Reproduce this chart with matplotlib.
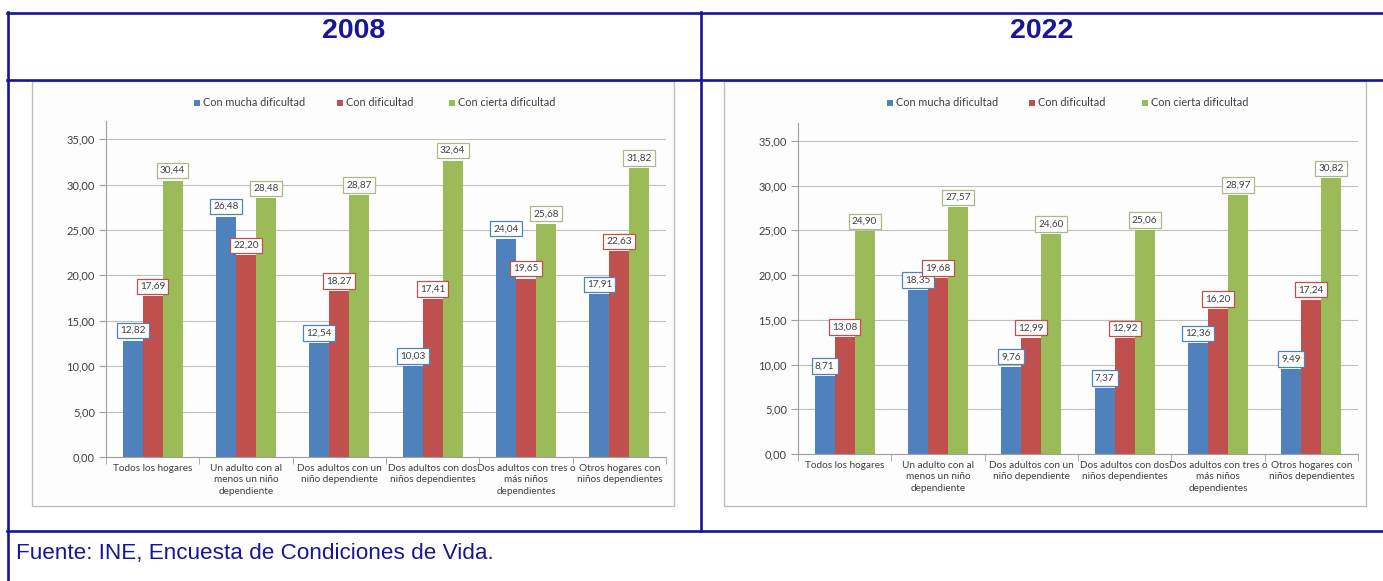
import numpy as np
import matplotlib
matplotlib.use('Agg')
import matplotlib.pyplot as plt
import matplotlib.font_manager as fm
from matplotlib.patches import Rectangle
from matplotlib.lines import Line2D

# data
categories = ['Todos los hogares',
              'Un adulto con al\nmenos un niño\ndependiente',
              'Dos adultos con un\nniño dependiente',
              'Dos adultos con dos\nniños dependientes',
              'Dos adultos con tres o\nmás niños\ndependientes',
              'Otros hogares con\nniños dependientes']
series_names = ['Con mucha dificultad', 'Con dificultad', 'Con cierta dificultad']

mucha_2008 = [12.82, 26.48, 12.54, 10.03, 24.04, 17.91]
dificultad_2008 = [17.69, 22.20, 18.27, 17.41, 19.65, 22.63]
cierta_2008 = [30.44, 28.48, 28.87, 32.64, 25.68, 31.82]

mucha_2022 = [8.71, 18.35, 9.76, 7.37, 12.36, 9.49]
dificultad_2022 = [13.08, 19.68, 12.99, 12.92, 16.20, 17.24]
cierta_2022 = [24.90, 27.57, 24.60, 25.06, 28.97, 30.82]

yticks = [0, 5, 10, 15, 20, 25, 30, 35]

colors = ['#4f81bd', '#c0504d', '#9bbb59']
label_edges = ['#4f81bd', '#c0504d', '#a9b98a']
navy = '#161696'
txt = '#3f3f3f'

names = {f.name for f in fm.fontManager.ttflist}
cfont = 'Lato' if 'Lato' in names else 'Liberation Sans'

W, H = 1383, 581
fig = plt.figure(figsize=(W / 100, H / 100), dpi=100)
fig.patch.set_facecolor('white')


def fx(px):
    return px / W


def fy(py):
    return (H - py) / H


def fmt(v):
    return f'{v:.2f}'.replace('.', ',')


def draw_chart(rect, data, legend_px):
    ax = fig.add_axes(rect)
    ax.set_facecolor('none')
    x = np.arange(len(categories))
    bw = 0.214
    for i, vals in enumerate(data):
        pos = x + (i - 1) * bw
        ax.bar(pos, vals, width=bw, color=colors[i], zorder=2)
        for p, v in zip(pos, vals):
            ax.annotate(fmt(v), (p, v), xytext=(0, 10), textcoords='offset pixels',
                        ha='center', va='center', fontsize=7.2, family=cfont,
                        color=txt, zorder=5 + i,
                        bbox=dict(boxstyle='square,pad=0.32', fc='white',
                                  ec=label_edges[i], lw=0.9))
    ax.set_xlim(-0.5, len(categories) - 0.5)
    ax.set_ylim(0, 37)
    ax.set_yticks(yticks)
    ax.set_yticklabels([fmt(t) for t in yticks], fontsize=8, family=cfont, color=txt)
    ax.yaxis.grid(True, color='#c0c0c0', lw=0.8, zorder=0)
    ax.set_axisbelow(True)
    ax.set_xticks(x)
    ax.set_xticklabels(categories, fontsize=7.2, family=cfont, color=txt, linespacing=1.35)
    ax.set_xticks(np.arange(-0.5, len(categories)), minor=True)
    ax.tick_params(axis='x', which='major', length=0, pad=5)
    ax.tick_params(axis='x', which='minor', length=5, color='#a0a0a0')
    ax.tick_params(axis='y', length=5, color='#a0a0a0', pad=3)
    for s in ['top', 'right']:
        ax.spines[s].set_visible(False)
    for s in ['left', 'bottom']:
        ax.spines[s].set_color('#a0a0a0')
        ax.spines[s].set_linewidth(0.8)
    # legend, placed item by item like the Excel one
    for i, px in enumerate(legend_px):
        fig.patches.append(Rectangle((fx(px - 3), fy(106)), fx(6), 6 / H,
                                     transform=fig.transFigure, facecolor=colors[i],
                                     edgecolor='none', zorder=3))
        fig.text(fx(px + 6), fy(103), series_names[i], ha='left', va='center',
                 fontsize=7.8, family=cfont, color=txt)
    return ax


# chart panels
for left in [32, 724]:
    fig.patches.append(Rectangle((fx(left), fy(506)), fx(642), 425 / H,
                                 transform=fig.transFigure, facecolor='#fdfdfd',
                                 edgecolor='#bdbdbd', lw=1, zorder=-1))

draw_chart([fx(106), fy(457), fx(560), (457 - 121) / H],
           [mucha_2008, dificultad_2008, cierta_2008], [197, 340, 452])
draw_chart([fx(798), fy(454), fx(560), (454 - 123) / H],
           [mucha_2022, dificultad_2022, cierta_2022], [890, 1032, 1145])

# table lines
lw = 1.9
for y in [12.5, 80.5, 530.5]:
    fig.add_artist(Line2D([fx(7), 1], [fy(y), fy(y)], color=navy, lw=lw))
fig.add_artist(Line2D([fx(8), fx(8)], [fy(12), 0], color=navy, lw=lw))
fig.add_artist(Line2D([fx(701), fx(701)], [fy(12), fy(531)], color=navy, lw=lw))

fig.text(fx(354), fy(31), '2008', ha='center', va='center', fontsize=20.5,
         fontweight='bold', family='Liberation Sans', color=navy)
fig.text(fx(1042), fy(31), '2022', ha='center', va='center', fontsize=20.5,
         fontweight='bold', family='Liberation Sans', color=navy)
fig.text(fx(16), fy(554), 'Fuente: INE, Encuesta de Condiciones de Vida.', ha='left',
         va='center', fontsize=16.2, family='Liberation Sans', color=navy)

fig.savefig('out.png', dpi=100)
